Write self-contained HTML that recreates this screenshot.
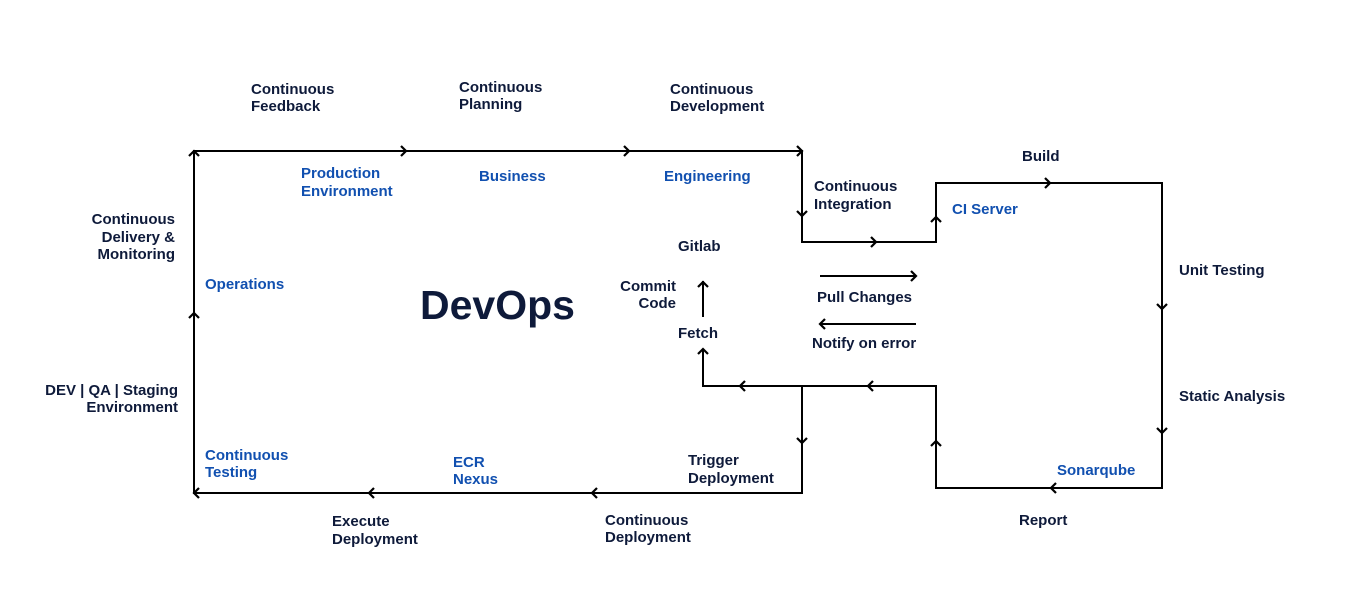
<!DOCTYPE html>
<html><head><meta charset="utf-8"><style>
html,body{margin:0;padding:0;background:#fff;}
svg{display:block;}
text{font-family:"Liberation Sans",sans-serif;font-weight:bold;font-size:15px;fill:#0e1a3a;}
.b{fill:#1150b0;}
</style></head><body>
<svg width="1345" height="601" viewBox="0 0 1345 601" xmlns="http://www.w3.org/2000/svg">
<g stroke="#000" stroke-width="2" fill="none" stroke-linecap="square">
<polyline points="194,493 194,151 802,151 802,242 936,242 936,183 1162,183 1162,488 936,488 936,386 703,386 703,350"/>
<line x1="802" y1="386" x2="802" y2="493"/>
<line x1="802" y1="493" x2="194" y2="493"/>
<line x1="703" y1="316" x2="703" y2="282"/>
<line x1="821" y1="276" x2="915" y2="276"/>
<line x1="821" y1="324" x2="915" y2="324"/>
</g>
<g stroke="#000" stroke-width="2.2" fill="none" stroke-linejoin="miter">
<polyline points="401,146 406,151 401,156"/>
<polyline points="624,146 629,151 624,156"/>
<polyline points="797,146 802,151 797,156"/>
<polyline points="871,237 876,242 871,247"/>
<polyline points="1045,178 1050,183 1045,188"/>
<polyline points="911,271 916,276 911,281"/>
<polyline points="825,319 820,324 825,329"/>
<polyline points="1056,483 1051,488 1056,493"/>
<polyline points="873,381 868,386 873,391"/>
<polyline points="745,381 740,386 745,391"/>
<polyline points="597,488 592,493 597,498"/>
<polyline points="374,488 369,493 374,498"/>
<polyline points="199,488 194,493 199,498"/>
<polyline points="797,211 802,216 807,211"/>
<polyline points="1157,304 1162,309 1167,304"/>
<polyline points="1157,428 1162,433 1167,428"/>
<polyline points="797,438 802,443 807,438"/>
<polyline points="931,222 936,217 941,222"/>
<polyline points="931,446 936,441 941,446"/>
<polyline points="698,354 703,349 708,354"/>
<polyline points="698,287 703,282 708,287"/>
<polyline points="189,318 194,313 199,318"/>
<polyline points="189,156 194,151 199,156"/>
</g>
<text x="251" y="94">Continuous</text><text x="251" y="111">Feedback</text>
<text x="459" y="92">Continuous</text><text x="459" y="109">Planning</text>
<text x="670" y="94">Continuous</text><text x="670" y="111">Development</text>
<text class="b" x="301" y="178">Production</text><text class="b" x="301" y="196">Environment</text>
<text class="b" x="479" y="181">Business</text>
<text class="b" x="664" y="181">Engineering</text>
<text x="1022" y="161">Build</text>
<text x="814" y="191">Continuous</text><text x="814" y="209">Integration</text>
<text class="b" x="952" y="214">CI Server</text>
<text x="1179" y="275">Unit Testing</text>
<text x="1179" y="401">Static Analysis</text>
<text class="b" x="1057" y="475">Sonarqube</text>
<text x="1019" y="525">Report</text>
<text x="678" y="251">Gitlab</text>
<text x="676" y="291" text-anchor="end">Commit</text><text x="676" y="308" text-anchor="end">Code</text>
<text x="678" y="338">Fetch</text>
<text x="817" y="302">Pull Changes</text>
<text x="812" y="348">Notify on error</text>
<text x="175" y="224" text-anchor="end">Continuous</text><text x="175" y="242" text-anchor="end">Delivery &amp;</text><text x="175" y="259" text-anchor="end">Monitoring</text>
<text class="b" x="205" y="289">Operations</text>
<text x="420" y="319" style="font-size:41px;">DevOps</text>
<text x="178" y="395" text-anchor="end">DEV | QA | Staging</text><text x="178" y="412" text-anchor="end">Environment</text>
<text class="b" x="205" y="460">Continuous</text><text class="b" x="205" y="477">Testing</text>
<text class="b" x="453" y="467">ECR</text><text class="b" x="453" y="484">Nexus</text>
<text x="688" y="465">Trigger</text><text x="688" y="483">Deployment</text>
<text x="332" y="526">Execute</text><text x="332" y="544">Deployment</text>
<text x="605" y="525">Continuous</text><text x="605" y="542">Deployment</text>
</svg>
</body></html>
